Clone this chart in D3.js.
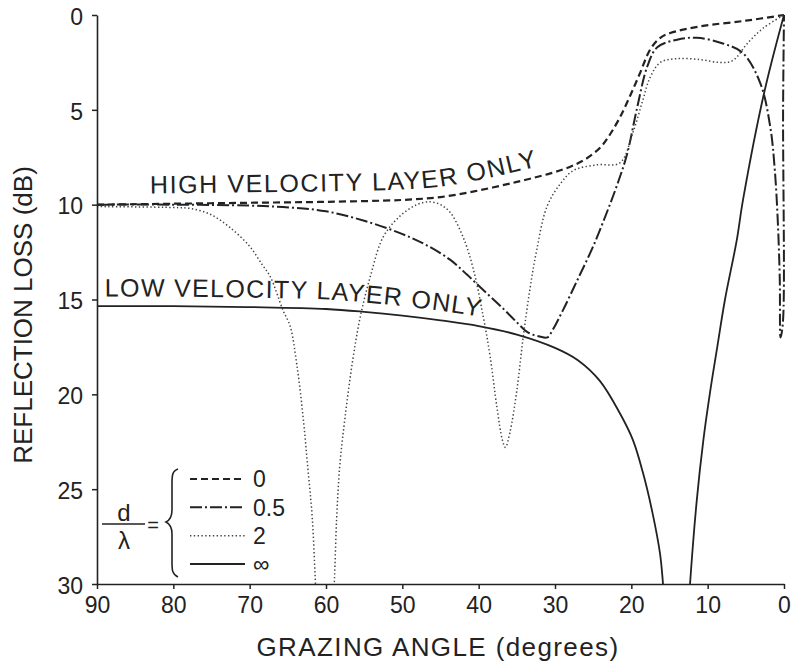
<!DOCTYPE html>
<html>
<head>
<meta charset="utf-8">
<script src="https://cdn.jsdelivr.net/npm/d3@7"></script>
<style>
  html, body { margin: 0; padding: 0; background: #fff; }
  svg { display: block; font-family: "Liberation Sans", Arial, Helvetica, sans-serif; }
</style>
</head>
<body>
<svg id="chart" width="792" height="669"></svg>
<script>
// Reflection loss (dB) against grazing angle (degrees) for layer thickness ratios d/λ.
const xTicks = [90, 80, 70, 60, 50, 40, 30, 20, 10, 0];
const yTicks = [0, 5, 10, 15, 20, 25, 30];

// d/λ = 0  (high velocity layer only)
const lossRatio0 = [
  [90, 10.0], [80, 9.95], [70, 9.9], [60, 9.85], [50, 9.75], [45, 9.6], [40, 9.25],
  [35, 8.8], [30.6, 8.35], [28, 8.0], [26, 7.6], [24.1, 7.0], [22.8, 6.3], [21.5, 5.4],
  [20.2, 4.3], [18.9, 3.1], [17.5, 1.8], [16.2, 1.2], [14.9, 0.95], [11, 0.6], [5, 0.3], [0, 0]
];

// d/λ = 0.5
const lossRatio05 = [
  [90, 10.0], [80, 10.0], [70, 10.05], [64.7, 10.15], [60, 10.35], [55, 10.85], [50.3, 11.5],
  [47, 12.1], [43.75, 12.9], [41.5, 13.7], [39.4, 14.5], [37, 15.4], [35, 16.2], [33.5, 16.75],
  [32, 16.95], [31, 17.0], [30.3, 16.6], [29, 15.6], [27.1, 14.0], [25, 12.2], [23.2, 10.4],
  [21.9, 9.0], [20.6, 7.4], [19.3, 5.0], [17.9, 2.7], [16.6, 1.7], [14, 1.3], [11.4, 1.2],
  [8, 1.5], [5.4, 2.0], [3.1, 3.6], [1.8, 5.9], [1.2, 8.2], [0.8, 11], [0.55, 14], [0.45, 17.0],
  [0.14, 16.2], [0.12, 5], [0, 0]
];

// d/λ = 2
const lossRatio2 = [
  [90, 10.1], [80, 10.15], [77.8, 10.2], [75.2, 10.5], [72.6, 11.2], [70, 12.2], [68.3, 13.2],
  [67.3, 13.8], [65.6, 15.6], [64.7, 16.4], [63.8, 18.5], [63.0, 21.2], [62.4, 23.8], [61.8, 26.5],
  [61.4, 29.8], [61.0, 33], [60.1, 38], [59.3, 33], [58.9, 29.8], [58.6, 26.5], [58.2, 23.8],
  [57.5, 21.2], [56.5, 18.2], [55.5, 15.9], [54.2, 13.8], [52.5, 11.7], [50.3, 10.6], [48.1, 10.0],
  [46.4, 9.85], [45, 10.0], [43.75, 10.4], [42.05, 11.7], [40.7, 13.4], [39.4, 15.9], [38.5, 18.0],
  [37.6, 20.7], [36.9, 22.4], [36.5, 22.8], [35.9, 22.0], [35.0, 19.8], [34.2, 17.1], [33.3, 14.5],
  [32.4, 12.4], [31.05, 10.1], [29.3, 8.9], [27.6, 8.2], [24.5, 7.9], [21.5, 7.8], [19.8, 6.2],
  [18.5, 4.5], [17.55, 3.3], [16.2, 2.5], [14, 2.3], [11, 2.35], [8.4, 2.5], [6.7, 2.4],
  [4.8, 1.5], [2.75, 0.7], [0, 0]
];

// d/λ = ∞  (low velocity layer only)
const lossRatioInf = [
  [90, 15.35], [80, 15.35], [70, 15.4], [60, 15.5], [55, 15.65], [50, 15.85], [45, 16.1],
  [40, 16.4], [35, 16.85], [30, 17.55], [27, 18.2], [24.1, 19.3], [21.5, 21.0], [19.8, 22.4],
  [18.5, 24.1], [17.2, 26.3], [16.24, 28.4], [15.85, 30], [15.2, 34], [14.1, 38], [12.9, 34],
  [12.31, 30], [11.43, 25.6], [10.56, 22.4], [9.69, 19.9], [8.82, 17.7], [7.73, 15.0],
  [6.2, 11.9], [5.37, 9.75], [2.6, 4.1], [0, 0]
];

const legendLabels = ["0", "0.5", "2", "∞"];
const seriesDash = ["7,4", "12,3,2,3", "1.4,2.4", null];
const seriesWidth = [2.2, 2.0, 1.5, 1.8];
const seriesColor = ["#222", "#222", "#444", "#222"];
const seriesData = [lossRatio0, lossRatio05, lossRatio2, lossRatioInf];

const svg = d3.select("#chart");
const ink = "#222";

const x = d3.scaleLinear().domain([90, 0]).range([97, 784]);
const y = d3.scaleLinear().domain([0, 30]).range([15, 584]);

svg.append("rect").attr("width", 792).attr("height", 669).attr("fill", "#fff");

svg.append("defs").append("clipPath").attr("id", "plotClip")
  .append("rect").attr("x", 90).attr("y", 4).attr("width", 700).attr("height", 580);

const line = d3.line()
  .x(d => x(d[0]))
  .y(d => y(d[1]))
  .curve(d3.curveCatmullRom.alpha(0.5));

const plot = svg.append("g").attr("clip-path", "url(#plotClip)");
seriesData.forEach((data, i) => {
  plot.append("path")
    .attr("d", line(data))
    .attr("fill", "none")
    .attr("stroke", seriesColor[i])
    .attr("stroke-width", seriesWidth[i])
    .attr("stroke-dasharray", seriesDash[i])
    .attr("stroke-linejoin", "round");
});

// Curve annotations, set along paths offset slightly above their curves
const labelLine = off => d3.line()
  .x(d => x(d[0]))
  .y(d => y(d[1] - off))
  .curve(d3.curveCatmullRom.alpha(0.5));

const defs = svg.select("defs");
defs.append("path").attr("id", "highPath")
  .attr("d", labelLine(0.55)(lossRatio0.filter(d => d[0] >= 25)));
defs.append("path").attr("id", "lowPath")
  .attr("d", labelLine(0.5)(lossRatioInf.filter(d => d[0] >= 25)));

svg.append("text").attr("font-size", 25).attr("fill", ink).attr("letter-spacing", 1.6)
  .append("textPath").attr("href", "#highPath").attr("startOffset", 53)
  .text("HIGH VELOCITY LAYER ONLY");
svg.append("text").attr("font-size", 25).attr("fill", ink).attr("letter-spacing", 1.3)
  .append("textPath").attr("href", "#lowPath").attr("startOffset", 8)
  .text("LOW VELOCITY LAYER ONLY");

// Axes
const yAxis = svg.append("g")
  .attr("transform", `translate(${x(90)},0)`)
  .call(d3.axisLeft(y).tickValues(yTicks).tickSize(5).tickPadding(9).tickSizeOuter(0));
const xAxis = svg.append("g")
  .attr("transform", `translate(0,${y(30)})`)
  .call(d3.axisBottom(x).tickValues(xTicks).tickSize(5).tickPadding(8).tickSizeOuter(0));

[yAxis, xAxis].forEach(g => {
  g.select(".domain").attr("stroke", ink).attr("stroke-width", 1.6);
  g.selectAll(".tick line").attr("stroke", ink).attr("stroke-width", 1.5);
  g.selectAll(".tick text").attr("fill", ink).attr("font-size", 23)
    .attr("font-family", "\"Liberation Sans\", Arial, sans-serif");
});
yAxis.selectAll(".tick text").attr("dy", "0.4em");

svg.append("text")
  .attr("transform", "translate(32,315) rotate(-90)")
  .attr("text-anchor", "middle")
  .attr("font-size", 26).attr("fill", ink)
  .text("REFLECTION LOSS (dB)");

svg.append("text")
  .attr("x", 438).attr("y", 656)
  .attr("text-anchor", "middle")
  .attr("font-size", 26).attr("letter-spacing", 1.4).attr("fill", ink)
  .text("GRAZING ANGLE (degrees)");

// Legend: d/λ = { line samples }
const legend = svg.append("g");
legend.append("text").attr("x", 124).attr("y", 521).attr("text-anchor", "middle")
  .attr("font-size", 24).attr("fill", ink).text("d");
legend.append("line").attr("x1", 102).attr("x2", 145).attr("y1", 524).attr("y2", 524)
  .attr("stroke", ink).attr("stroke-width", 1.5);
legend.append("text").attr("x", 124).attr("y", 549).attr("text-anchor", "middle")
  .attr("font-size", 24).attr("fill", ink).text("λ");
legend.append("text").attr("x", 153).attr("y", 532).attr("text-anchor", "middle")
  .attr("font-size", 20).attr("fill", ink).text("=");
legend.append("path")
  .attr("d", "M178,469 C172,471 172,476 172,484 L172,510 C172,517 170,520 166,522 C170,524 172,527 172,534 L172,562 C172,570 172,574 178,577")
  .attr("fill", "none").attr("stroke", ink).attr("stroke-width", 1.6);

const legendRowY = d3.scalePoint().domain(legendLabels).range([479, 564]);
legendLabels.forEach((lab, i) => {
  const ly = legendRowY(lab);
  legend.append("line").attr("x1", 190).attr("x2", 245).attr("y1", ly).attr("y2", ly)
    .attr("stroke", seriesColor[i]).attr("stroke-width", seriesWidth[i])
    .attr("stroke-dasharray", seriesDash[i]);
  legend.append("text").attr("x", 253).attr("y", ly).attr("dy", "0.36em")
    .attr("font-size", 23).attr("fill", ink).text(lab);
});
</script>
</body>
</html>
